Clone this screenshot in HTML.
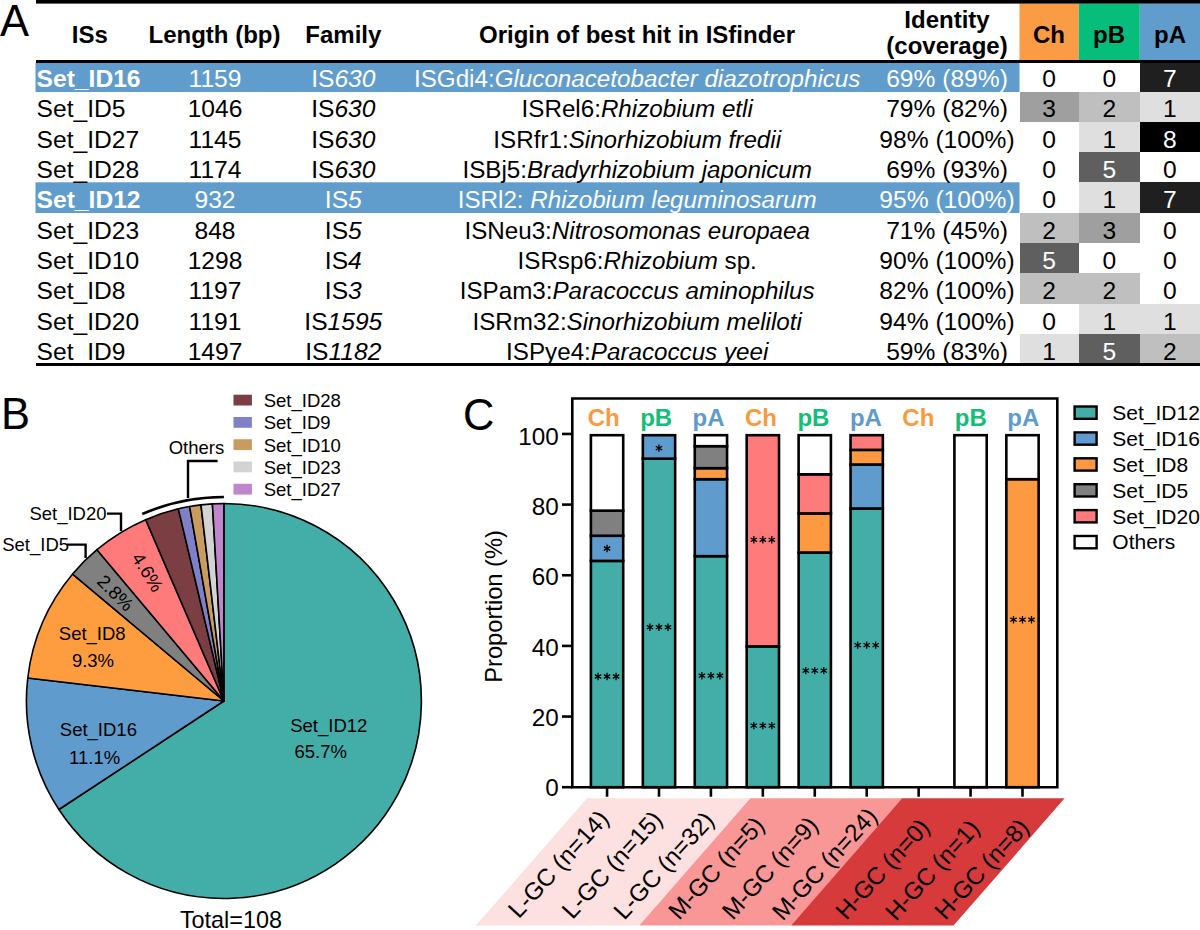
<!DOCTYPE html>
<html><head><meta charset="utf-8"><style>
html,body{margin:0;padding:0;background:#fff;}
svg{display:block;font-family:"Liberation Sans",sans-serif;}
</style></head><body>
<svg width="1200" height="930" viewBox="0 0 1200 930">
<rect width="1200" height="930" fill="#fff"/>
<text x="0" y="36.4" font-size="43.5">A</text>
<rect x="1019.5" y="3.5" width="59.3" height="57" fill="#fa9c45"/>
<rect x="1078.8" y="3.5" width="61" height="57" fill="#06bd7b"/>
<rect x="1139.8" y="3.5" width="60.2" height="57" fill="#619dcc"/>
<rect x="35.5" y="63" width="984.0" height="29" fill="#619dcc"/>
<rect x="1139.8" y="63" width="60.200000000000045" height="29" fill="rgb(31,31,31)" shape-rendering="crispEdges"/>
<rect x="1019.5" y="92" width="59.299999999999955" height="29.799999999999997" fill="rgb(159,159,159)" shape-rendering="crispEdges"/>
<rect x="1078.8" y="92" width="61.0" height="29.799999999999997" fill="rgb(191,191,191)" shape-rendering="crispEdges"/>
<rect x="1139.8" y="92" width="60.200000000000045" height="29.799999999999997" fill="rgb(223,223,223)" shape-rendering="crispEdges"/>
<rect x="1078.8" y="121.8" width="61.0" height="30.299999999999997" fill="rgb(223,223,223)" shape-rendering="crispEdges"/>
<rect x="1139.8" y="121.8" width="60.200000000000045" height="30.299999999999997" fill="rgb(0,0,0)" shape-rendering="crispEdges"/>
<rect x="1078.8" y="152.1" width="61.0" height="30.200000000000017" fill="rgb(95,95,95)" shape-rendering="crispEdges"/>
<rect x="35.5" y="182.3" width="984.0" height="30.69999999999999" fill="#619dcc"/>
<rect x="1078.8" y="182.3" width="61.0" height="30.69999999999999" fill="rgb(223,223,223)" shape-rendering="crispEdges"/>
<rect x="1139.8" y="182.3" width="60.200000000000045" height="30.69999999999999" fill="rgb(31,31,31)" shape-rendering="crispEdges"/>
<rect x="1019.5" y="213" width="59.299999999999955" height="30.099999999999994" fill="rgb(191,191,191)" shape-rendering="crispEdges"/>
<rect x="1078.8" y="213" width="61.0" height="30.099999999999994" fill="rgb(159,159,159)" shape-rendering="crispEdges"/>
<rect x="1019.5" y="243.1" width="59.299999999999955" height="30.200000000000017" fill="rgb(95,95,95)" shape-rendering="crispEdges"/>
<rect x="1019.5" y="273.3" width="59.299999999999955" height="30.5" fill="rgb(191,191,191)" shape-rendering="crispEdges"/>
<rect x="1078.8" y="273.3" width="61.0" height="30.5" fill="rgb(191,191,191)" shape-rendering="crispEdges"/>
<rect x="1078.8" y="303.8" width="61.0" height="30.30000000000001" fill="rgb(223,223,223)" shape-rendering="crispEdges"/>
<rect x="1139.8" y="303.8" width="60.200000000000045" height="30.30000000000001" fill="rgb(223,223,223)" shape-rendering="crispEdges"/>
<rect x="1019.5" y="334.1" width="59.299999999999955" height="28.899999999999977" fill="rgb(223,223,223)" shape-rendering="crispEdges"/>
<rect x="1078.8" y="334.1" width="61.0" height="28.899999999999977" fill="rgb(95,95,95)" shape-rendering="crispEdges"/>
<rect x="1139.8" y="334.1" width="60.200000000000045" height="28.899999999999977" fill="rgb(191,191,191)" shape-rendering="crispEdges"/>
<rect x="36" y="0" width="1164" height="3.6" fill="#000"/>
<rect x="36" y="60" width="1164" height="3" fill="#000"/>
<rect x="36" y="363" width="1164" height="3" fill="#000"/>
<g font-weight="bold" font-size="24" text-anchor="middle">
<text x="89.8" y="42.7">ISs</text>
<text x="214.5" y="42.7">Length (bp)</text>
<text x="343.3" y="42.7">Family</text>
<text x="637" y="42.7">Origin of best hit in ISfinder</text>
<text x="947" y="27.8">Identity</text>
<text x="947" y="54.4">(coverage)</text>
<text x="1049" y="42.7">Ch</text>
<text x="1109" y="42.7">pB</text>
<text x="1170" y="42.7">pA</text>
</g>
<g font-size="24.6" fill="#fff">
<text x="36.6" y="87.1" font-weight="bold">Set_ID16</text>
<text x="215" y="87.1" text-anchor="middle">1159</text>
<text x="343.3" y="87.1" text-anchor="middle">IS<tspan font-style="italic">630</tspan></text>
<text x="637.2" y="87.1" font-size="24.2" text-anchor="middle">ISGdi4:<tspan font-style="italic">Gluconacetobacter diazotrophicus</tspan></text>
<text x="947" y="87.1" text-anchor="middle">69% (89%)</text>
</g>
<text x="1049.15" y="87.1" font-size="24.6" text-anchor="middle" fill="#000">0</text>
<text x="1109.3" y="87.1" font-size="24.6" text-anchor="middle" fill="#000">0</text>
<text x="1169.9" y="87.1" font-size="24.6" text-anchor="middle" fill="#fff">7</text>
<g font-size="24.6" fill="#000">
<text x="36.6" y="117.39999999999999">Set_ID5</text>
<text x="215" y="117.39999999999999" text-anchor="middle">1046</text>
<text x="343.3" y="117.39999999999999" text-anchor="middle">IS<tspan font-style="italic">630</tspan></text>
<text x="637.2" y="117.39999999999999" font-size="24.2" text-anchor="middle">ISRel6:<tspan font-style="italic">Rhizobium etli</tspan></text>
<text x="947" y="117.39999999999999" text-anchor="middle">79% (82%)</text>
</g>
<text x="1049.15" y="117.39999999999999" font-size="24.6" text-anchor="middle" fill="#000">3</text>
<text x="1109.3" y="117.39999999999999" font-size="24.6" text-anchor="middle" fill="#000">2</text>
<text x="1169.9" y="117.39999999999999" font-size="24.6" text-anchor="middle" fill="#000">1</text>
<g font-size="24.6" fill="#000">
<text x="36.6" y="147.7">Set_ID27</text>
<text x="215" y="147.7" text-anchor="middle">1145</text>
<text x="343.3" y="147.7" text-anchor="middle">IS<tspan font-style="italic">630</tspan></text>
<text x="637.2" y="147.7" font-size="24.2" text-anchor="middle">ISRfr1:<tspan font-style="italic">Sinorhizobium fredii</tspan></text>
<text x="947" y="147.7" text-anchor="middle">98% (100%)</text>
</g>
<text x="1049.15" y="147.7" font-size="24.6" text-anchor="middle" fill="#000">0</text>
<text x="1109.3" y="147.7" font-size="24.6" text-anchor="middle" fill="#000">1</text>
<text x="1169.9" y="147.7" font-size="24.6" text-anchor="middle" fill="#fff">8</text>
<g font-size="24.6" fill="#000">
<text x="36.6" y="178.0">Set_ID28</text>
<text x="215" y="178.0" text-anchor="middle">1174</text>
<text x="343.3" y="178.0" text-anchor="middle">IS<tspan font-style="italic">630</tspan></text>
<text x="637.2" y="178.0" font-size="24.2" text-anchor="middle">ISBj5:<tspan font-style="italic">Bradyrhizobium japonicum</tspan></text>
<text x="947" y="178.0" text-anchor="middle">69% (93%)</text>
</g>
<text x="1049.15" y="178.0" font-size="24.6" text-anchor="middle" fill="#000">0</text>
<text x="1109.3" y="178.0" font-size="24.6" text-anchor="middle" fill="#fff">5</text>
<text x="1169.9" y="178.0" font-size="24.6" text-anchor="middle" fill="#000">0</text>
<g font-size="24.6" fill="#fff">
<text x="36.6" y="208.3" font-weight="bold">Set_ID12</text>
<text x="215" y="208.3" text-anchor="middle">932</text>
<text x="343.3" y="208.3" text-anchor="middle">IS<tspan font-style="italic">5</tspan></text>
<text x="637.2" y="208.3" font-size="24.2" text-anchor="middle">ISRl2: <tspan font-style="italic">Rhizobium leguminosarum</tspan></text>
<text x="947" y="208.3" text-anchor="middle">95% (100%)</text>
</g>
<text x="1049.15" y="208.3" font-size="24.6" text-anchor="middle" fill="#000">0</text>
<text x="1109.3" y="208.3" font-size="24.6" text-anchor="middle" fill="#000">1</text>
<text x="1169.9" y="208.3" font-size="24.6" text-anchor="middle" fill="#fff">7</text>
<g font-size="24.6" fill="#000">
<text x="36.6" y="238.6">Set_ID23</text>
<text x="215" y="238.6" text-anchor="middle">848</text>
<text x="343.3" y="238.6" text-anchor="middle">IS<tspan font-style="italic">5</tspan></text>
<text x="637.2" y="238.6" font-size="24.2" text-anchor="middle">ISNeu3:<tspan font-style="italic">Nitrosomonas europaea</tspan></text>
<text x="947" y="238.6" text-anchor="middle">71% (45%)</text>
</g>
<text x="1049.15" y="238.6" font-size="24.6" text-anchor="middle" fill="#000">2</text>
<text x="1109.3" y="238.6" font-size="24.6" text-anchor="middle" fill="#000">3</text>
<text x="1169.9" y="238.6" font-size="24.6" text-anchor="middle" fill="#000">0</text>
<g font-size="24.6" fill="#000">
<text x="36.6" y="268.9">Set_ID10</text>
<text x="215" y="268.9" text-anchor="middle">1298</text>
<text x="343.3" y="268.9" text-anchor="middle">IS<tspan font-style="italic">4</tspan></text>
<text x="637.2" y="268.9" font-size="24.2" text-anchor="middle">ISRsp6:<tspan font-style="italic">Rhizobium</tspan> sp.</text>
<text x="947" y="268.9" text-anchor="middle">90% (100%)</text>
</g>
<text x="1049.15" y="268.9" font-size="24.6" text-anchor="middle" fill="#fff">5</text>
<text x="1109.3" y="268.9" font-size="24.6" text-anchor="middle" fill="#000">0</text>
<text x="1169.9" y="268.9" font-size="24.6" text-anchor="middle" fill="#000">0</text>
<g font-size="24.6" fill="#000">
<text x="36.6" y="299.2">Set_ID8</text>
<text x="215" y="299.2" text-anchor="middle">1197</text>
<text x="343.3" y="299.2" text-anchor="middle">IS<tspan font-style="italic">3</tspan></text>
<text x="637.2" y="299.2" font-size="24.2" text-anchor="middle">ISPam3:<tspan font-style="italic">Paracoccus aminophilus</tspan></text>
<text x="947" y="299.2" text-anchor="middle">82% (100%)</text>
</g>
<text x="1049.15" y="299.2" font-size="24.6" text-anchor="middle" fill="#000">2</text>
<text x="1109.3" y="299.2" font-size="24.6" text-anchor="middle" fill="#000">2</text>
<text x="1169.9" y="299.2" font-size="24.6" text-anchor="middle" fill="#000">0</text>
<g font-size="24.6" fill="#000">
<text x="36.6" y="329.5">Set_ID20</text>
<text x="215" y="329.5" text-anchor="middle">1191</text>
<text x="343.3" y="329.5" text-anchor="middle">IS<tspan font-style="italic">1595</tspan></text>
<text x="637.2" y="329.5" font-size="24.2" text-anchor="middle">ISRm32:<tspan font-style="italic">Sinorhizobium meliloti</tspan></text>
<text x="947" y="329.5" text-anchor="middle">94% (100%)</text>
</g>
<text x="1049.15" y="329.5" font-size="24.6" text-anchor="middle" fill="#000">0</text>
<text x="1109.3" y="329.5" font-size="24.6" text-anchor="middle" fill="#000">1</text>
<text x="1169.9" y="329.5" font-size="24.6" text-anchor="middle" fill="#000">1</text>
<g font-size="24.6" fill="#000">
<text x="36.6" y="359.79999999999995">Set_ID9</text>
<text x="215" y="359.79999999999995" text-anchor="middle">1497</text>
<text x="343.3" y="359.79999999999995" text-anchor="middle">IS<tspan font-style="italic">1182</tspan></text>
<text x="637.2" y="359.79999999999995" font-size="24.2" text-anchor="middle">ISPye4:<tspan font-style="italic">Paracoccus yeei</tspan></text>
<text x="947" y="359.79999999999995" text-anchor="middle">59% (83%)</text>
</g>
<text x="1049.15" y="359.79999999999995" font-size="24.6" text-anchor="middle" fill="#000">1</text>
<text x="1109.3" y="359.79999999999995" font-size="24.6" text-anchor="middle" fill="#fff">5</text>
<text x="1169.9" y="359.79999999999995" font-size="24.6" text-anchor="middle" fill="#000">2</text>
<text x="1" y="429" font-size="43.5">B</text>
<path d="M223.9,701 L223.90,503.50 A197.5,197.5 0 1 1 58.89,809.53 Z" fill="#43ada8" stroke="#000" stroke-width="1.6" stroke-linejoin="round"/>
<path d="M223.9,701 L58.89,809.53 A197.5,197.5 0 0 1 27.74,678.07 Z" fill="#5f9bcc" stroke="#000" stroke-width="1.6" stroke-linejoin="round"/>
<path d="M223.9,701 L27.74,678.07 A197.5,197.5 0 0 1 72.61,574.05 Z" fill="#fd9d40" stroke="#000" stroke-width="1.6" stroke-linejoin="round"/>
<path d="M223.9,701 L72.61,574.05 A197.5,197.5 0 0 1 96.95,549.71 Z" fill="#808080" stroke="#000" stroke-width="1.6" stroke-linejoin="round"/>
<path d="M223.9,701 L96.95,549.71 A197.5,197.5 0 0 1 145.67,519.65 Z" fill="#ff7b7b" stroke="#000" stroke-width="1.6" stroke-linejoin="round"/>
<path d="M223.9,701 L145.67,519.65 A197.5,197.5 0 0 1 178.35,508.82 Z" fill="#7b3e42" stroke="#000" stroke-width="1.6" stroke-linejoin="round"/>
<path d="M223.9,701 L178.35,508.82 A197.5,197.5 0 0 1 189.60,506.50 Z" fill="#8080c8" stroke="#000" stroke-width="1.6" stroke-linejoin="round"/>
<path d="M223.9,701 L189.60,506.50 A197.5,197.5 0 0 1 200.97,504.84 Z" fill="#c89b5e" stroke="#000" stroke-width="1.6" stroke-linejoin="round"/>
<path d="M223.9,701 L200.97,504.84 A197.5,197.5 0 0 1 212.42,503.83 Z" fill="#d3d3d3" stroke="#000" stroke-width="1.6" stroke-linejoin="round"/>
<path d="M223.9,701 L212.42,503.83 A197.5,197.5 0 0 1 223.90,503.50 Z" fill="#bf86cc" stroke="#000" stroke-width="1.6" stroke-linejoin="round"/>
<g font-size="18.5" transform="translate(0.6,0.8)">
<text x="289.6" y="730.9">Set_ID12</text>
<text x="293.9" y="757">65.7%</text>
<text x="59.2" y="735">Set_ID16</text>
<text x="68.5" y="763">11.1%</text>
<text x="58.2" y="639.4">Set_ID8</text>
<text x="71.3" y="666.7">9.3%</text>
<text transform="translate(115,592) rotate(45)" text-anchor="middle" y="6.6" font-size="18.5">2.8%</text>
<text transform="translate(147.2,571.3) rotate(58.3)" text-anchor="middle" y="6.6" font-size="18.5">4.6%</text>
<text x="28.8" y="519">Set_ID20</text>
<text x="1.6" y="550.4">Set_ID5</text>
<text x="168.1" y="453.6">Others</text>
</g>
<text x="179.9" y="928.2" font-size="23.4">Total=108</text>
<path d="M107,513.6 H121 V531" fill="none" stroke="#000" stroke-width="2.4"/>
<path d="M67,544.6 H85.6 V558" fill="none" stroke="#000" stroke-width="2.4"/>
<path d="M217.6,461 H188 V498" fill="none" stroke="#000" stroke-width="2.4"/>
<path d="M142.23,514.06 A204,204 0 0 1 223.90,497.00" fill="none" stroke="#000" stroke-width="2.6"/>
<rect x="233.5" y="394.7" width="18.4" height="10.8" fill="#7b3e42"/>
<text x="263.7" y="407.0" font-size="18.5">Set_ID28</text>
<rect x="233.5" y="416.96999999999997" width="18.4" height="10.8" fill="#8080c8"/>
<text x="263.7" y="429.27" font-size="18.5">Set_ID9</text>
<rect x="233.5" y="439.24" width="18.4" height="10.8" fill="#c89b5e"/>
<text x="263.7" y="451.54" font-size="18.5">Set_ID10</text>
<rect x="233.5" y="461.51" width="18.4" height="10.8" fill="#d3d3d3"/>
<text x="263.7" y="473.81" font-size="18.5">Set_ID23</text>
<rect x="233.5" y="483.78" width="18.4" height="10.8" fill="#bf86cc"/>
<text x="263.7" y="496.08" font-size="18.5">Set_ID27</text>
<text x="463" y="429.7" font-size="43.5">C</text>
<path d="M1057.3,398.5 H572.3 V787.2 H1057.3 Z" fill="none" stroke="#000" stroke-width="2.6"/>
<line x1="562" x2="572" y1="787.20" y2="787.20" stroke="#000" stroke-width="2.6"/>
<text x="558.8" y="796.10" font-size="24.3" text-anchor="end">0</text>
<line x1="562" x2="572" y1="716.55" y2="716.55" stroke="#000" stroke-width="2.6"/>
<text x="558.8" y="725.84" font-size="24.3" text-anchor="end">20</text>
<line x1="562" x2="572" y1="645.90" y2="645.90" stroke="#000" stroke-width="2.6"/>
<text x="558.8" y="655.58" font-size="24.3" text-anchor="end">40</text>
<line x1="562" x2="572" y1="575.25" y2="575.25" stroke="#000" stroke-width="2.6"/>
<text x="558.8" y="585.32" font-size="24.3" text-anchor="end">60</text>
<line x1="562" x2="572" y1="504.60" y2="504.60" stroke="#000" stroke-width="2.6"/>
<text x="558.8" y="515.06" font-size="24.3" text-anchor="end">80</text>
<line x1="562" x2="572" y1="433.95" y2="433.95" stroke="#000" stroke-width="2.6"/>
<text x="558.8" y="444.80" font-size="24.3" text-anchor="end">100</text>
<text transform="translate(502.3,606.4) rotate(-90)" font-size="23.7" text-anchor="middle">Proportion (%)</text>
<rect x="590.90" y="560.90" width="32.3" height="226.30" fill="#43ada8" stroke="#000" stroke-width="2.6"/>
<rect x="590.90" y="535.77" width="32.3" height="25.13" fill="#5f9bcc" stroke="#000" stroke-width="2.6"/>
<rect x="590.90" y="510.63" width="32.3" height="25.13" fill="#808080" stroke="#000" stroke-width="2.6"/>
<rect x="590.90" y="435.20" width="32.3" height="75.43" fill="#ffffff" stroke="#000" stroke-width="2.6"/>
<path d="M598.05,672.80L598.05,680.20M594.85,674.65L601.25,678.35M601.25,674.65L594.85,678.35" stroke="#000" stroke-width="1.3"/>
<path d="M607.05,672.80L607.05,680.20M603.85,674.65L610.25,678.35M610.25,674.65L603.85,678.35" stroke="#000" stroke-width="1.3"/>
<path d="M616.05,672.80L616.05,680.20M612.85,674.65L619.25,678.35M619.25,674.65L612.85,678.35" stroke="#000" stroke-width="1.3"/>
<path d="M607.05,544.80L607.05,552.20M603.85,546.65L610.25,550.35M610.25,546.65L603.85,550.35" stroke="#000" stroke-width="1.3"/>
<line x1="607.05" x2="607.05" y1="787" y2="796.7" stroke="#000" stroke-width="2.6"/>
<rect x="642.83" y="458.68" width="32.3" height="328.52" fill="#43ada8" stroke="#000" stroke-width="2.6"/>
<rect x="642.83" y="435.20" width="32.3" height="23.48" fill="#5f9bcc" stroke="#000" stroke-width="2.6"/>
<path d="M649.98,623.50L649.98,630.90M646.78,625.35L653.18,629.05M653.18,625.35L646.78,629.05" stroke="#000" stroke-width="1.3"/>
<path d="M658.98,623.50L658.98,630.90M655.78,625.35L662.18,629.05M662.18,625.35L655.78,629.05" stroke="#000" stroke-width="1.3"/>
<path d="M667.98,623.50L667.98,630.90M664.78,625.35L671.18,629.05M671.18,625.35L664.78,629.05" stroke="#000" stroke-width="1.3"/>
<path d="M658.98,444.40L658.98,451.80M655.78,446.25L662.18,449.95M662.18,446.25L655.78,449.95" stroke="#000" stroke-width="1.3"/>
<line x1="658.9799999999999" x2="658.9799999999999" y1="787" y2="796.7" stroke="#000" stroke-width="2.6"/>
<rect x="694.76" y="556.18" width="32.3" height="231.02" fill="#43ada8" stroke="#000" stroke-width="2.6"/>
<rect x="694.76" y="479.20" width="32.3" height="76.98" fill="#5f9bcc" stroke="#000" stroke-width="2.6"/>
<rect x="694.76" y="468.18" width="32.3" height="11.02" fill="#fd9a41" stroke="#000" stroke-width="2.6"/>
<rect x="694.76" y="446.18" width="32.3" height="22.00" fill="#808080" stroke="#000" stroke-width="2.6"/>
<rect x="694.76" y="435.20" width="32.3" height="10.98" fill="#ffffff" stroke="#000" stroke-width="2.6"/>
<path d="M701.91,672.00L701.91,679.40M698.71,673.85L705.11,677.55M705.11,673.85L698.71,677.55" stroke="#000" stroke-width="1.3"/>
<path d="M710.91,672.00L710.91,679.40M707.71,673.85L714.11,677.55M714.11,673.85L707.71,677.55" stroke="#000" stroke-width="1.3"/>
<path d="M719.91,672.00L719.91,679.40M716.71,673.85L723.11,677.55M723.11,673.85L716.71,677.55" stroke="#000" stroke-width="1.3"/>
<line x1="710.91" x2="710.91" y1="787" y2="796.7" stroke="#000" stroke-width="2.6"/>
<rect x="746.69" y="646.40" width="32.3" height="140.80" fill="#43ada8" stroke="#000" stroke-width="2.6"/>
<rect x="746.69" y="435.20" width="32.3" height="211.20" fill="#ff7b7b" stroke="#000" stroke-width="2.6"/>
<path d="M753.84,721.90L753.84,729.30M750.64,723.75L757.04,727.45M757.04,723.75L750.64,727.45" stroke="#000" stroke-width="1.3"/>
<path d="M762.84,721.90L762.84,729.30M759.64,723.75L766.04,727.45M766.04,723.75L759.64,727.45" stroke="#000" stroke-width="1.3"/>
<path d="M771.84,721.90L771.84,729.30M768.64,723.75L775.04,727.45M775.04,723.75L768.64,727.45" stroke="#000" stroke-width="1.3"/>
<path d="M753.84,536.10L753.84,543.50M750.64,537.95L757.04,541.65M757.04,537.95L750.64,541.65" stroke="#000" stroke-width="1.3"/>
<path d="M762.84,536.10L762.84,543.50M759.64,537.95L766.04,541.65M766.04,537.95L759.64,541.65" stroke="#000" stroke-width="1.3"/>
<path d="M771.84,536.10L771.84,543.50M768.64,537.95L775.04,541.65M775.04,537.95L768.64,541.65" stroke="#000" stroke-width="1.3"/>
<line x1="762.8399999999999" x2="762.8399999999999" y1="787" y2="796.7" stroke="#000" stroke-width="2.6"/>
<rect x="798.62" y="552.52" width="32.3" height="234.68" fill="#43ada8" stroke="#000" stroke-width="2.6"/>
<rect x="798.62" y="513.41" width="32.3" height="39.11" fill="#fd9a41" stroke="#000" stroke-width="2.6"/>
<rect x="798.62" y="474.31" width="32.3" height="39.11" fill="#ff7b7b" stroke="#000" stroke-width="2.6"/>
<rect x="798.62" y="435.20" width="32.3" height="39.11" fill="#ffffff" stroke="#000" stroke-width="2.6"/>
<path d="M805.77,666.90L805.77,674.30M802.57,668.75L808.97,672.45M808.97,668.75L802.57,672.45" stroke="#000" stroke-width="1.3"/>
<path d="M814.77,666.90L814.77,674.30M811.57,668.75L817.97,672.45M817.97,668.75L811.57,672.45" stroke="#000" stroke-width="1.3"/>
<path d="M823.77,666.90L823.77,674.30M820.57,668.75L826.97,672.45M826.97,668.75L820.57,672.45" stroke="#000" stroke-width="1.3"/>
<line x1="814.77" x2="814.77" y1="787" y2="796.7" stroke="#000" stroke-width="2.6"/>
<rect x="850.55" y="508.52" width="32.3" height="278.68" fill="#43ada8" stroke="#000" stroke-width="2.6"/>
<rect x="850.55" y="464.52" width="32.3" height="44.00" fill="#5f9bcc" stroke="#000" stroke-width="2.6"/>
<rect x="850.55" y="449.88" width="32.3" height="14.64" fill="#fd9a41" stroke="#000" stroke-width="2.6"/>
<rect x="850.55" y="435.20" width="32.3" height="14.68" fill="#ff7b7b" stroke="#000" stroke-width="2.6"/>
<path d="M857.70,641.40L857.70,648.80M854.50,643.25L860.90,646.95M860.90,643.25L854.50,646.95" stroke="#000" stroke-width="1.3"/>
<path d="M866.70,641.40L866.70,648.80M863.50,643.25L869.90,646.95M869.90,643.25L863.50,646.95" stroke="#000" stroke-width="1.3"/>
<path d="M875.70,641.40L875.70,648.80M872.50,643.25L878.90,646.95M878.90,643.25L872.50,646.95" stroke="#000" stroke-width="1.3"/>
<line x1="866.6999999999999" x2="866.6999999999999" y1="787" y2="796.7" stroke="#000" stroke-width="2.6"/>
<line x1="918.6299999999999" x2="918.6299999999999" y1="787" y2="796.7" stroke="#000" stroke-width="2.6"/>
<rect x="954.41" y="435.20" width="32.3" height="352.00" fill="#ffffff" stroke="#000" stroke-width="2.6"/>
<line x1="970.56" x2="970.56" y1="787" y2="796.7" stroke="#000" stroke-width="2.6"/>
<rect x="1006.34" y="479.20" width="32.3" height="308.00" fill="#fd9a41" stroke="#000" stroke-width="2.6"/>
<rect x="1006.34" y="435.20" width="32.3" height="44.00" fill="#ffffff" stroke="#000" stroke-width="2.6"/>
<path d="M1013.49,616.00L1013.49,623.40M1010.29,617.85L1016.69,621.55M1016.69,617.85L1010.29,621.55" stroke="#000" stroke-width="1.3"/>
<path d="M1022.49,616.00L1022.49,623.40M1019.29,617.85L1025.69,621.55M1025.69,617.85L1019.29,621.55" stroke="#000" stroke-width="1.3"/>
<path d="M1031.49,616.00L1031.49,623.40M1028.29,617.85L1034.69,621.55M1034.69,617.85L1028.29,621.55" stroke="#000" stroke-width="1.3"/>
<line x1="1022.49" x2="1022.49" y1="787" y2="796.7" stroke="#000" stroke-width="2.6"/>
<text x="603.7" y="425.7" font-size="24" font-weight="bold" fill="#f99a3e" text-anchor="middle">Ch</text>
<text x="656.1400000000001" y="425.7" font-size="24" font-weight="bold" fill="#12be78" text-anchor="middle">pB</text>
<text x="708.58" y="425.7" font-size="24" font-weight="bold" fill="#5f9bcc" text-anchor="middle">pA</text>
<text x="761.02" y="425.7" font-size="24" font-weight="bold" fill="#f99a3e" text-anchor="middle">Ch</text>
<text x="813.46" y="425.7" font-size="24" font-weight="bold" fill="#12be78" text-anchor="middle">pB</text>
<text x="865.9000000000001" y="425.7" font-size="24" font-weight="bold" fill="#5f9bcc" text-anchor="middle">pA</text>
<text x="918.34" y="425.7" font-size="24" font-weight="bold" fill="#f99a3e" text-anchor="middle">Ch</text>
<text x="970.78" y="425.7" font-size="24" font-weight="bold" fill="#12be78" text-anchor="middle">pB</text>
<text x="1023.22" y="425.7" font-size="24" font-weight="bold" fill="#5f9bcc" text-anchor="middle">pA</text>
<rect x="1074.6" y="406.5" width="22" height="12.3" fill="#43ada8" stroke="#000" stroke-width="2.4"/>
<text x="1112.3" y="419.9" font-size="21">Set_ID12</text>
<rect x="1074.6" y="432.4" width="22" height="12.3" fill="#5f9bcc" stroke="#000" stroke-width="2.4"/>
<text x="1112.3" y="445.79999999999995" font-size="21">Set_ID16</text>
<rect x="1074.6" y="458.3" width="22" height="12.3" fill="#fd9a41" stroke="#000" stroke-width="2.4"/>
<text x="1112.3" y="471.7" font-size="21">Set_ID8</text>
<rect x="1074.6" y="484.2" width="22" height="12.3" fill="#808080" stroke="#000" stroke-width="2.4"/>
<text x="1112.3" y="497.59999999999997" font-size="21">Set_ID5</text>
<rect x="1074.6" y="510.1" width="22" height="12.3" fill="#ff7b7b" stroke="#000" stroke-width="2.4"/>
<text x="1112.3" y="523.5" font-size="21">Set_ID20</text>
<rect x="1074.6" y="536.0" width="22" height="12.3" fill="#ffffff" stroke="#000" stroke-width="2.4"/>
<text x="1112.3" y="549.4" font-size="21">Others</text>
<path d="M587,798.3 L750.4,798.3 L639.3,925.6 L475.9,925.6 Z" fill="#fde1e1"/>
<path d="M750.4,798.3 L902.1,798.3 L791.0,925.6 L639.3,925.6 Z" fill="#f99797"/>
<path d="M902.1,798.3 L1064.6,798.3 L953.4999999999999,925.6 L791.0,925.6 Z" fill="#d63a3a"/>
<text transform="translate(564.50,869.60) rotate(-47.5)" font-size="24.2" text-anchor="middle">L-GC (n=14)</text>
<text transform="translate(618.15,870.35) rotate(-47.5)" font-size="24.2" text-anchor="middle">L-GC (n=15)</text>
<text transform="translate(669.85,871.10) rotate(-47.5)" font-size="24.2" text-anchor="middle">L-GC (n=32)</text>
<text transform="translate(722.40,873.60) rotate(-47.5)" font-size="24.2" text-anchor="middle">M-GC (n=5)</text>
<text transform="translate(776.20,873.60) rotate(-47.5)" font-size="24.2" text-anchor="middle">M-GC (n=9)</text>
<text transform="translate(830.70,869.60) rotate(-47.5)" font-size="24.2" text-anchor="middle">M-GC (n=24)</text>
<text transform="translate(888.60,874.60) rotate(-47.5)" font-size="24.2" text-anchor="middle">H-GC (n=0)</text>
<text transform="translate(938.40,875.60) rotate(-47.5)" font-size="24.2" text-anchor="middle">H-GC (n=1)</text>
<text transform="translate(987.75,874.60) rotate(-47.5)" font-size="24.2" text-anchor="middle">H-GC (n=8)</text>
</svg>
</body></html>
